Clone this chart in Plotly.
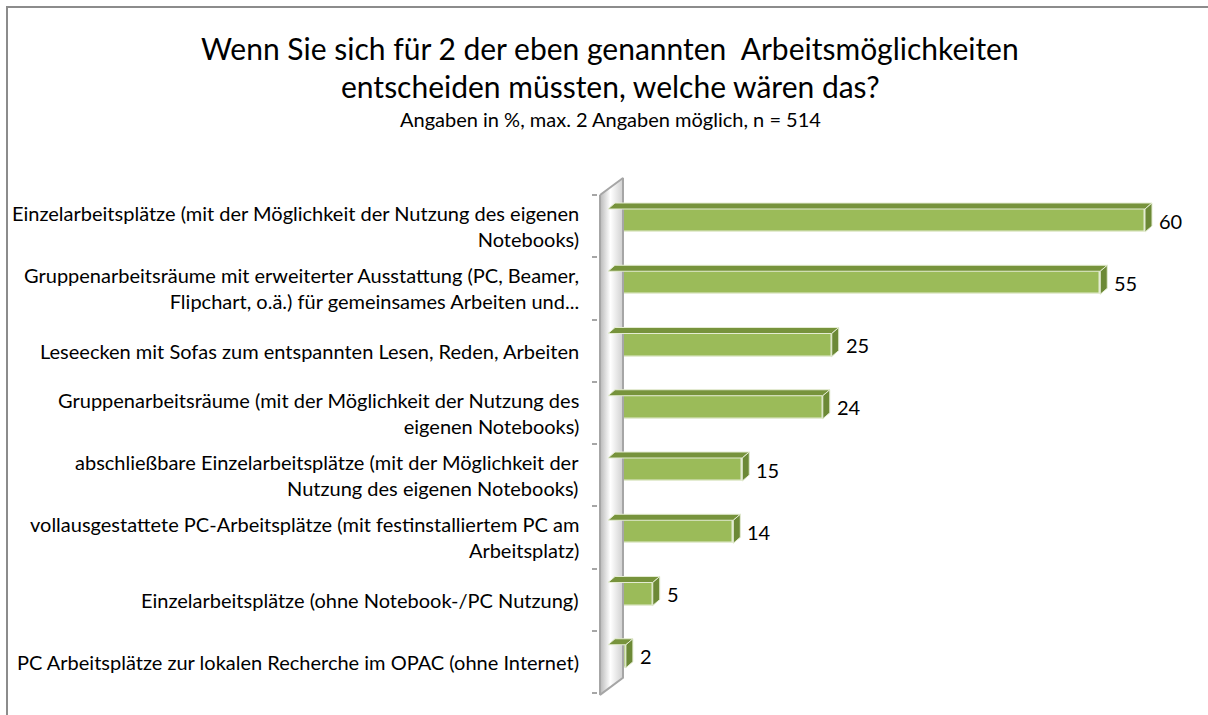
import plotly.graph_objects as go

categories = [
    "Einzelarbeitsplätze (mit der Möglichkeit der Nutzung des eigenen<br>Notebooks)",
    "Gruppenarbeitsräume mit erweiterter Ausstattung (PC, Beamer,<br>Flipchart, o.ä.) für gemeinsames Arbeiten und...",
    "Leseecken mit Sofas zum entspannten Lesen, Reden, Arbeiten",
    "Gruppenarbeitsräume (mit der Möglichkeit der Nutzung des<br>eigenen Notebooks)",
    "abschließbare Einzelarbeitsplätze (mit der Möglichkeit der<br>Nutzung des eigenen Notebooks)",
    "vollausgestattete PC-Arbeitsplätze (mit festinstalliertem PC am<br>Arbeitsplatz)",
    "Einzelarbeitsplätze (ohne Notebook-/PC Nutzung)",
    "PC Arbeitsplätze zur lokalen Recherche im OPAC (ohne Internet)",
]
values = [60, 55, 25, 24, 15, 14, 5, 2]
title_lines = ["Wenn Sie sich für 2 der eben genannten  Arbeitsmöglichkeiten",
               "entscheiden müssten, welche wären das?"]
subtitle = "Angaben in %, max. 2 Angaben möglich, n = 514"

FONT = "Lato"
W, H = 1208, 715
PL, PR, PT, PB = 598, 1200, 175, 697          # plot area pixels
X0PX, XSCALE = 608, 8.95                       # pixel of value 0, px per unit
xr = [(PL - X0PX) / XSCALE, (PR - X0PX) / XSCALE]
CAT = 62.25
ytop = -0.5 - (195 - PT) / CAT
ybot = ytop + (PB - PT) / CAT
yr = [ybot, ytop]

idx = list(range(len(categories)))
BAR_OFF, BAR_W = -0.275, 0.37
DX, DY = 7 / XSCALE, 6 / CAT

fig = go.Figure()

# wall
xf = (600 - X0PX) / XSCALE
xb = (623 - X0PX) / XSCALE
wall_x = [xf, xb, xb, xf, xf]
wall_y = [-0.5, -0.5 - 17 / CAT, 7.5 - 17 / CAT + 0.03, 7.53, -0.5]
fig.add_trace(go.Scatter(
    x=wall_x, y=wall_y, mode="lines", fill="toself",
    fillgradient=dict(type="horizontal",
                      colorscale=[[0, "#B8B8B8"], [0.45, "#FFFFFF"], [1, "#D0D0D0"]]),
    line=dict(color="#A6A6A6", width=2), hoverinfo="skip", showlegend=False))

fig.add_trace(go.Bar(
    x=values, y=idx, orientation="h", width=BAR_W, offset=BAR_OFF,
    marker=dict(color="#9BBB59", line=dict(color="#E4ECD2", width=1.5)),
    showlegend=False, hoverinfo="skip"))

shapes = []
annotations = []
for i, v in zip(idx, values):
    yt = i + BAR_OFF
    yb = yt + BAR_W
    shapes.append(dict(type="path", xref="x", yref="y",
                       path=f"M 0 {yt} L {v} {yt} L {v+DX} {yt-DY} L {DX} {yt-DY} Z",
                       fillcolor="#77933C", line=dict(color="#E4ECD2", width=1)))
    shapes.append(dict(type="path", xref="x", yref="y",
                       path=f"M {v} {yt} L {v+DX} {yt-DY} L {v+DX} {yb-DY} L {v} {yb} Z",
                       fillcolor="#6C8936", line=dict(color="#E4ECD2", width=1)))
    annotations.append(dict(x=v + DX, y=(yt + yb) / 2, xref="x", yref="y",
                            text=str(v), showarrow=False, xanchor="left", xshift=5,
                            font=dict(family=FONT, size=20, color="#000000")))

def px(xp, yp):
    return (xp - PL) / (PR - PL), (PB - yp) / (PB - PT)

# category labels
lab_x, _ = px(581, 0)
for i, label in zip(idx, categories):
    annotations.append(dict(x=lab_x, y=i, xref="paper", yref="y", text=label,
                            showarrow=False, xanchor="right", yanchor="middle",
                            align="right",
                            font=dict(family=FONT, size=20, color="#000000")))

# border
bx0, by0 = px(7, 7)
bx1, by1 = px(1215, 722)
shapes.append(dict(type="rect", xref="paper", yref="paper",
                   x0=bx0, y0=by1, x1=bx1, y1=by0,
                   line=dict(color="#8C8C8C", width=2), fillcolor="rgba(0,0,0,0)"))

# titles
for line, ypix in zip(title_lines, [48, 86]):
    ax, ay = px(610, ypix)
    annotations.append(dict(x=ax, y=ay, xref="paper", yref="paper", text=line,
                            showarrow=False, xanchor="center", yanchor="middle",
                            font=dict(family=FONT, size=30, color="#000000")))
ax, ay = px(610, 119)
annotations.append(dict(x=ax, y=ay, xref="paper", yref="paper", text=subtitle,
                        showarrow=False, xanchor="center", yanchor="middle",
                        font=dict(family=FONT, size=20, color="#000000")))

fig.update_layout(
    width=W, height=H,
    margin=dict(l=PL, r=W - PR, t=PT, b=H - PB, pad=0),
    plot_bgcolor="white", paper_bgcolor="white",
    shapes=shapes, annotations=annotations,
    xaxis=dict(range=xr, showgrid=False, zeroline=False, showticklabels=False,
               showline=False, fixedrange=True),
    yaxis=dict(range=yr, tickmode="array", tickvals=idx, ticktext=[""] * len(idx),
               showgrid=False, zeroline=False, showline=False, ticks="",
               minor=dict(tickmode="array", tickvals=[k - 0.5 for k in range(len(categories) + 1)],
                          ticks="outside", ticklen=5, tickcolor="#A6A6A6", tickwidth=2,
                          showgrid=False)),
    bargap=0,
)

fig.write_html("out.html", config={"displayModeBar": False},
               post_script="document.body.style.margin='0';document.body.style.overflow='hidden';")
